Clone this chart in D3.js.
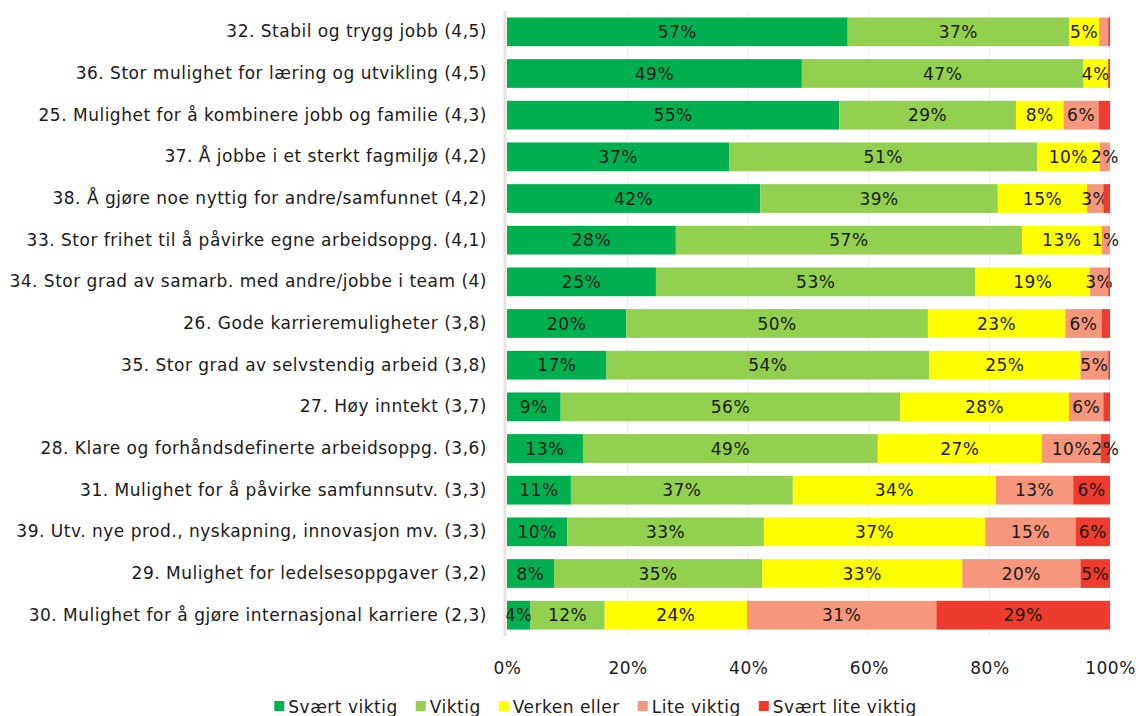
<!DOCTYPE html>
<meta charset='utf-8'>
<style>
	body { margin: 0; background: #fff; }
	#container { width: 1139px; height: 716px; }
	text { font-family: 'DejaVu Sans', sans-serif; fill: #1a1a1a; letter-spacing: 0.5px; }
</style>
<body>
	<div id='container'>
	</div>
<script src='https://d3js.org/d3.v7.min.js'></script>
<script>
	const categories = [
		'32. Stabil og trygg jobb (4,5)',
		'36. Stor mulighet for læring og utvikling (4,5)',
		'25. Mulighet for å kombinere jobb og familie (4,3)',
		'37. Å jobbe i et sterkt fagmiljø (4,2)',
		'38. Å gjøre noe nyttig for andre/samfunnet (4,2)',
		'33. Stor frihet til å påvirke egne arbeidsoppg. (4,1)',
		'34. Stor grad av samarb. med andre/jobbe i team (4)',
		'26. Gode karrieremuligheter (3,8)',
		'35. Stor grad av selvstendig arbeid (3,8)',
		'27. Høy inntekt (3,7)',
		'28. Klare og forhåndsdefinerte arbeidsoppg. (3,6)',
		'31. Mulighet for å påvirke samfunnsutv. (3,3)',
		'39. Utv. nye prod., nyskapning, innovasjon mv. (3,3)',
		'29. Mulighet for ledelsesoppgaver (3,2)',
		'30. Mulighet for å gjøre internasjonal karriere (2,3)',
	];

	const seriesNames = [ 'Svært viktig', 'Viktig', 'Verken eller', 'Lite viktig', 'Svært lite viktig' ];
	const seriesColors = [ '#00b050', '#92d050', '#ffff00', '#f5967d', '#ee3b2d' ];

	// percent per category, one array per series
	const sveartViktig    = [ 56.5, 48.9, 55.1, 36.9, 42.0, 28.0, 24.7, 19.8, 16.5,  8.9, 12.6, 10.6, 10.0,  7.8,  3.9 ];
	const viktig          = [ 36.7, 46.7, 29.3, 51.0, 39.4, 57.4, 53.0, 50.0, 53.5, 56.3, 48.9, 36.8, 32.6, 34.5, 12.3 ];
	const verkenEller     = [  5.0,  4.1,  7.9, 10.4, 14.8, 13.2, 19.0, 22.8, 25.1, 28.0, 27.2, 33.7, 36.7, 33.2, 23.6 ];
	const liteViktig      = [  1.5,  0.0,  5.8,  1.7,  2.7,  1.4,  3.0,  6.0,  4.6,  5.7,  9.8, 12.8, 15.0, 19.6, 31.4 ];
	const sveartLiteViktig= [  0.3,  0.3,  1.9,  0.0,  1.1,  0.0,  0.3,  1.4,  0.3,  1.1,  1.5,  6.1,  5.7,  4.9, 28.8 ];

	// data labels left out in the original (row index : series index)
	const hiddenLabels = [ '0:3', '0:4', '1:3', '1:4', '2:4', '3:4', '4:4', '5:4', '6:4', '7:4', '8:4', '9:4' ];

	const xTicks = [ 0, 0.2, 0.4, 0.6, 0.8, 1 ];

	const margin = { top: 11, left: 507, right: 29, bottom: 80 },
		width = 1139 - margin.left - margin.right,
		height = 716 - margin.top - margin.bottom,
		fontSize = '17px';

	const table = categories.map( ( c, i ) => {
		const row = { category: c, idx: i };
		[ sveartViktig, viktig, verkenEller, liteViktig, sveartLiteViktig ].forEach( ( s, j ) => {
			row[ seriesNames[ j ] ] = s[ i ];
		} );
		return row;
	} );

	const stacked = d3.stack()
		.keys( seriesNames )
		.offset( d3.stackOffsetExpand )( table );

	const xScale = d3.scaleLinear()
		.domain( [0, 1] )
		.range( [0, width] );
	const yScale = d3.scaleBand()
		.domain( categories )
		.range( [0, height] )
		.paddingInner( 0.31 )
		.paddingOuter( 0.155 );
	const colors = d3.scaleOrdinal()
		.domain( seriesNames )
		.range( seriesColors );

	const svg = d3.select( '#container' )
		.append( 'svg' )
		.attr( 'width', 1139 )
		.attr( 'height', 716 )
			.append( 'g' )
				.attr( 'transform', `translate( ${margin.left}, ${margin.top} )` );

	// gridlines
	svg.append( 'g' )
		.attr( 'class', 'grid' )
		.selectAll( 'line' )
		.data( xTicks.slice( 1 ) )
		.enter().append( 'line' )
			.attr( 'x1', d => xScale( d ) )
			.attr( 'x2', d => xScale( d ) )
			.attr( 'y1', 0 )
			.attr( 'y2', height )
			.style( 'stroke', '#eeede6' )
			.style( 'stroke-width', 1 );

	// bars
	const layers = svg.append( 'g' )
		.selectAll( '.layer' )
		.data( stacked )
		.enter().append( 'g' )
			.attr( 'class', 'layer' )
			.style( 'fill', d => colors( d.key ) );

	layers.selectAll( 'rect' )
		.data( d => d )
		.enter().append( 'rect' )
			.attr( 'x', d => xScale( d[0] ) )
			.attr( 'y', d => yScale( d.data.category ) )
			.attr( 'width', d => xScale( d[1] ) - xScale( d[0] ) )
			.attr( 'height', yScale.bandwidth() );

	// data labels
	layers.selectAll( '.lbl' )
		.data( ( d, j ) => d.map( p => ( { p: p, j: j, key: d.key } ) ) )
		.enter()
		.filter( d => d.p.data[ d.key ] > 0 && !hiddenLabels.includes( `${d.p.data.idx}:${d.j}` ) )
		.append( 'text' )
			.attr( 'class', 'lbl' )
			.attr( 'x', d => xScale( ( d.p[0] + d.p[1] ) / 2 ) )
			.attr( 'y', d => yScale( d.p.data.category ) + yScale.bandwidth() / 2 )
			.attr( 'dy', '.36em' )
			.style( 'text-anchor', 'middle' )
			.style( 'font-size', fontSize )
			.style( 'fill', '#1a1a1a' )
			.text( d => `${Math.round( d.p.data[ d.key ] )}%` );

	// left axis line
	svg.append( 'line' )
		.attr( 'x1', -2 )
		.attr( 'x2', -2 )
		.attr( 'y1', 0 )
		.attr( 'y2', height )
		.style( 'stroke', '#e8e4da' )
		.style( 'stroke-width', 3 );

	// category labels
	const yAxis = d3.axisLeft( yScale ).tickSize( 0 ).tickPadding( 20 );
	const yAxisEl = svg.append( 'g' ).call( yAxis );
	yAxisEl.select( '.domain' ).remove();
	yAxisEl.attr( 'font-family', null );
	yAxisEl.selectAll( 'text' )
		.style( 'font-size', fontSize )
		.style( 'fill', '#1a1a1a' );

	// x axis labels
	const xAxis = d3.axisBottom( xScale )
		.tickValues( xTicks )
		.tickSize( 0 )
		.tickPadding( 26 )
		.tickFormat( d3.format( '.0%' ) );
	const xAxisEl = svg.append( 'g' )
		.attr( 'transform', `translate( 0, ${height} )` )
		.call( xAxis );
	xAxisEl.select( '.domain' ).remove();
	xAxisEl.attr( 'font-family', null );
	xAxisEl.selectAll( 'text' )
		.style( 'font-size', fontSize )
		.style( 'fill', '#1a1a1a' );

	// Legend
	const legendHolder = d3.select( 'svg' ).append( 'g' );
	const legend = legendHolder.selectAll( '.legend' )
		.data( seriesNames )
		.enter().append( 'g' )
			.attr( 'class', 'legend' );
	legend.append( 'rect' )
		.attr( 'x', 0 )
		.attr( 'y', -12 )
		.attr( 'width', 10 )
		.attr( 'height', 10 )
		.style( 'fill', d => colors( d ) );
	legend.append( 'text' )
		.attr( 'x', 14 )
		.attr( 'y', 0 )
		.style( 'font-size', fontSize )
		.style( 'fill', '#1a1a1a' )
		.text( d => d );

	let widthSums = 0;
	legend.attr( 'transform', function() {
		const value = widthSums;
		widthSums += this.getBBox().width + 18;
		return `translate( ${value}, 0 )`;
	} );
	const legendWidth = legendHolder.node().getBBox().width;
	legendHolder.attr( 'transform', `translate( ${595.5 - legendWidth / 2}, 713 )` );
</script>
</body>
